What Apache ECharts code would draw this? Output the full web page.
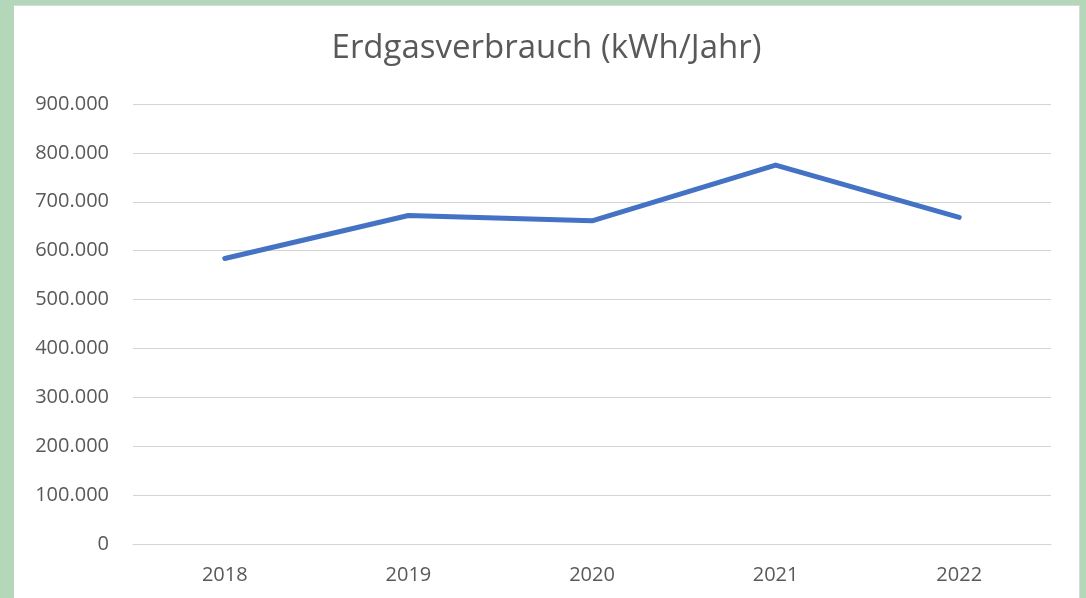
<!DOCTYPE html>
<html>
<head>
<meta charset="utf-8">
<script src="https://cdn.jsdelivr.net/npm/echarts@6/dist/echarts.min.js"></script>
<style>
  html, body { margin: 0; padding: 0; background: #b4d7b9; width: 1086px; height: 598px; overflow: hidden; }
  #main { position: absolute; left: 14px; top: 5px; width: 1066px; height: 593px; background: #fff; border-top: 1px solid #d9d9d9; border-right: 1px solid #d9d9d9; box-sizing: border-box; }
</style>
</head>
<body>
<div id="main"></div>
<script>
// Jahre und Verbrauch (kWh)
var years = ['2018', '2019', '2020', '2021', '2022'];
var verbrauch = [584000, 672000, 661000, 775000, 668000];

// Tausenderpunkt wie in der Vorlage
function fmt(v) {
  return String(v).replace(/\B(?=(\d{3})+(?!\d))/g, '.');
}

var chart = echarts.init(document.getElementById('main'));
var option = {
  animation: false,
  title: {
    text: 'Erdgasverbrauch (kWh/Jahr)',
    left: 'center',
    top: 21,
    textStyle: {
      fontFamily: 'Open Sans',
      fontSize: 33,
      fontWeight: 'normal',
      color: '#595959'
    }
  },
  grid: {
    left: 119,
    right: 28,
    top: 98,
    bottom: 54
  },
  xAxis: {
    type: 'category',
    data: years,
    boundaryGap: true,
    axisLine: { show: true, lineStyle: { color: '#d4d4d4', width: 1 } },
    axisTick: { show: false },
    axisLabel: {
      margin: 21,
      fontFamily: 'Open Sans',
      fontSize: 20,
      color: '#595959'
    }
  },
  yAxis: {
    type: 'value',
    min: 0,
    max: 900000,
    interval: 100000,
    axisLine: { show: false },
    axisTick: { show: false },
    splitLine: { lineStyle: { color: '#d4d4d4', width: 1 } },
    axisLabel: {
      margin: 24,
      fontFamily: 'Open Sans',
      fontSize: 20,
      color: '#595959',
      formatter: function (v) { return fmt(v); }
    }
  },
  series: [{
    name: 'Erdgasverbrauch',
    type: 'line',
    data: verbrauch,
    symbol: 'none',
    lineStyle: { color: '#4472c4', width: 5, cap: 'round', join: 'round' }
  }]
};
chart.setOption(option);
</script>
</body>
</html>
